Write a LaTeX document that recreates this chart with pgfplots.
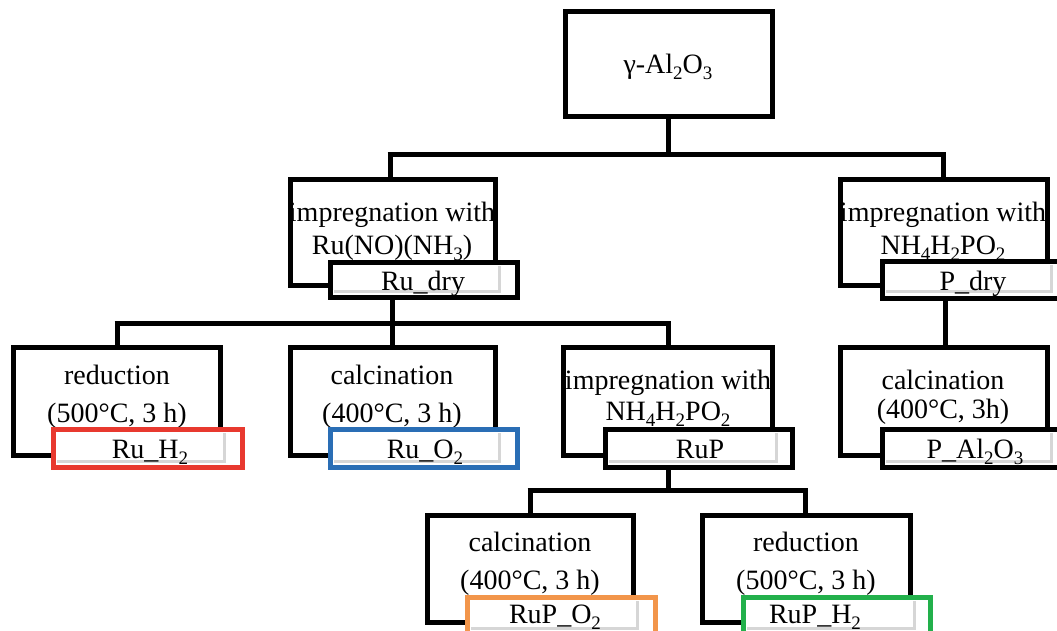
\documentclass[border=0pt]{standalone}
\usepackage{fontspec}
\setmainfont{Liberation Serif}
\usepackage{pgfplots}
\pgfplotsset{compat=1.18}

\definecolor{cred}{HTML}{E8392F}
\definecolor{cblue}{HTML}{2A6EB5}
\definecolor{corange}{HTML}{F2954A}
\definecolor{cgreen}{HTML}{22B04B}
\definecolor{cshadow}{HTML}{D6D6D6}

% process box: x1 y1 x2 y2 (pixel units, y downwards)
\newcommand{\procbox}[4]{%
  \draw[line width=5pt, fill=white] (axis cs:#1,#2) rectangle (axis cs:#3,#4);}
% sample label box: x1 y1 x2 y2 colour, main box right, main box bottom
\newcommand{\labbox}[7]{%
  \draw[line width=5pt, draw=#5, fill=white] (axis cs:#1,#2) rectangle (axis cs:#3,#4);
  \draw[cshadow, line width=3pt] (axis cs:#6+4,#2+4) -- (axis cs:#6+4,#7+6) -- (axis cs:#1+4,#7+6);}
\newcommand{\txt}[3]{%
  \node[anchor=base, inner sep=0pt] at (axis cs:#1,#2+9) {#3};}
\newcommand{\sub}[1]{\raisebox{-6pt}{\fontsize{19}{19}\selectfont #1}}

\begin{document}
\begin{tikzpicture}
\begin{axis}[
    width=1057pt, height=631pt,
    scale only axis,
    xmin=0, xmax=1057, ymin=0, ymax=631,
    y dir=reverse,
    hide axis,
    clip=false,
    conn/.style={black, solid, line width=5pt, mark=none},
    font=\fontsize{28}{32}\selectfont
]
\coordinate (ll) at (axis cs:0,631);
\coordinate (ur) at (axis cs:1057,0);

% connectors
\addplot[conn] coordinates {(668,117) (668,155)};
\addplot[conn] coordinates {(387.5,155) (945.5,155)};
\addplot[conn] coordinates {(390,155) (390,180)};
\addplot[conn] coordinates {(943,155) (943,180)};
\addplot[conn] coordinates {(392,297) (392,347)};
\addplot[conn] coordinates {(114.5,323) (670.5,323)};
\addplot[conn] coordinates {(117,323) (117,347)};
\addplot[conn] coordinates {(668,323) (668,347)};
\addplot[conn] coordinates {(945,298) (945,347)};
\addplot[conn] coordinates {(668,467) (668,490)};
\addplot[conn] coordinates {(527.5,490) (807.5,490)};
\addplot[conn] coordinates {(530,490) (530,515)};
\addplot[conn] coordinates {(805,490) (805,515)};

% top
\procbox{565}{12}{772}{117}
\txt{668}{65}{γ-Al\sub{2}O\sub{3}}

% level 2
\procbox{290}{180}{495}{285}
\txt{392}{213}{impregnation with}
\txt{392}{245}{Ru(NO)(NH\sub{3})}
\labbox{330}{262}{517}{297}{black}{495}{285}
\txt{423}{281}{Ru\_dry}

\procbox{840}{180}{1047}{285}
\txt{943}{213}{impregnation with}
\txt{943}{245}{NH\sub{4}H\sub{2}PO\sub{2}}
\labbox{882}{261}{1069}{298}{black}{1047}{285}
\txt{973}{281}{P\_dry}

% level 3
\procbox{13}{347}{220}{455}
\txt{117}{375}{reduction}
\txt{117}{413}{(500°C, 3 h)}
\labbox{53}{429}{242}{467}{cred}{220}{455}
\txt{150}{449}{Ru\_H\sub{2}}

\procbox{290}{347}{495}{455}
\txt{392}{375}{calcination}
\txt{392}{413}{(400°C, 3 h)}
\labbox{330}{429}{517}{467}{cblue}{495}{455}
\txt{425}{449}{Ru\_O\sub{2}}

\procbox{563}{347}{772}{455}
\txt{668}{380}{impregnation with}
\txt{668}{411}{NH\sub{4}H\sub{2}PO\sub{2}}
\labbox{605}{429}{792}{467}{black}{772}{455}
\txt{700}{449}{RuP}

\procbox{840}{347}{1047}{455}
\txt{943}{380}{calcination}
\txt{943}{409}{(400°C, 3h)}
\labbox{882}{429}{1069}{467}{black}{1047}{455}
\txt{975}{449}{P\_Al\sub{2}O\sub{3}}

% level 4
\procbox{427}{515}{633}{622}
\txt{530}{542}{calcination}
\txt{530}{580}{(400°C, 3 h)}
\labbox{467}{597}{655}{640}{corange}{633}{622}
\txt{555}{614}{RuP\_O\sub{2}}

\procbox{702}{515}{910}{622}
\txt{806}{542}{reduction}
\txt{806}{580}{(500°C, 3 h)}
\labbox{743}{597}{930}{640}{cgreen}{910}{622}
\txt{815}{614}{RuP\_H\sub{2}}
\end{axis}
\pgfresetboundingbox
\useasboundingbox (ll) rectangle (ur);
\end{tikzpicture}
\end{document}
